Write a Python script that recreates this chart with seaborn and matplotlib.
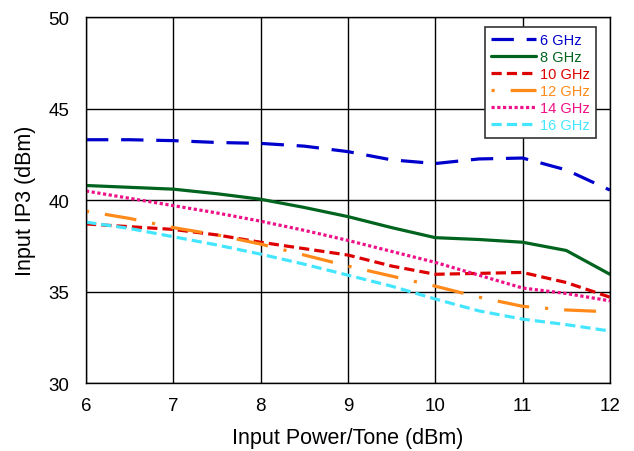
import matplotlib
matplotlib.use("Agg")
import matplotlib.pyplot as plt
import seaborn as sns
import pandas as pd

x = [6, 6.5, 7, 7.5, 8, 8.5, 9, 9.5, 10, 10.5, 11, 11.5, 12]
ghz6 = [43.3, 43.3, 43.25, 43.15, 43.1, 42.95, 42.65, 42.2, 42.0, 42.25, 42.3, 41.65, 40.55]
ghz8 = [40.8, 40.7, 40.6, 40.35, 40.05, 39.6, 39.1, 38.5, 37.95, 37.85, 37.7, 37.25, 35.95]
ghz10 = [38.7, 38.55, 38.4, 38.1, 37.7, 37.35, 37.0, 36.4, 35.95, 36.0, 36.05, 35.5, 34.7]
ghz12 = [39.4, 39.0, 38.5, 38.1, 37.6, 37.0, 36.4, 35.85, 35.3, 34.7, 34.2, 34.0, 33.9]
ghz14 = [40.5, 40.1, 39.7, 39.3, 38.85, 38.35, 37.8, 37.2, 36.6, 35.9, 35.2, 34.9, 34.5]
ghz16 = [38.8, 38.45, 38.0, 37.55, 37.05, 36.5, 35.9, 35.3, 34.6, 33.95, 33.5, 33.2, 32.85]

labels = ["6 GHz", "8 GHz", "10 GHz", "12 GHz", "14 GHz", "16 GHz"]
series = [ghz6, ghz8, ghz10, ghz12, ghz14, ghz16]
colors = ["#0000CC", "#00641E", "#DD0000", "#FF8A1A", "#EE1188", "#44E6FF"]
dashes = [(7, 4), "", (3.2, 1.6), (1, 5, 10, 5), (1, 0.8), (3.2, 1.6)]

sns.set_style("white")
plt.rcParams["font.family"] = ["Liberation Sans", "DejaVu Sans"]
plt.rcParams["text.color"] = "black"
plt.rcParams["axes.labelcolor"] = "black"
plt.rcParams["xtick.color"] = "black"
plt.rcParams["ytick.color"] = "black"

fig = plt.figure(figsize=(6.34, 4.52), dpi=100)
ax = fig.add_axes([0.1356, 0.150, 0.8264, 0.810])

for lab, ys, c, d in zip(labels, series, colors, dashes):
    df = pd.DataFrame({"x": x, "y": ys})
    sns.lineplot(data=df, x="x", y="y", ax=ax, color=c, linewidth=2.3, label=lab)
    l = ax.get_lines()[-1]
    if d != "":
        l.set_dashes(d)

ax.set_xlim(6, 12)
ax.set_ylim(30, 50)
ax.set_xticks([6, 7, 8, 9, 10, 11, 12])
ax.set_yticks([30, 35, 40, 45, 50])
ax.grid(True, color="black", linewidth=1)
for s in ax.spines.values():
    s.set_color("black")
    s.set_linewidth(1)
ax.tick_params(labelsize=13.5, length=0, labelcolor="black")
ax.tick_params(axis="y", pad=12)
ax.tick_params(axis="x", pad=10)
ax.set_xlabel("Input Power/Tone (dBm)", fontsize=15.5, labelpad=9, color="black")
ax.set_ylabel("Input IP3 (dBm)", fontsize=15.5, labelpad=9, color="black")

leg = ax.legend(loc="upper right", bbox_to_anchor=(0.974, 0.973), fontsize=10.5,
                frameon=True, fancybox=False, framealpha=1, edgecolor="#333333",
                handlelength=3.1, handletextpad=0.3, labelspacing=0.2, borderpad=0.42,
                borderaxespad=0)
leg.get_frame().set_linewidth(1.2)
for t, c in zip(leg.get_texts(), colors):
    t.set_color(c)

fig.savefig("out.png", dpi=100)
